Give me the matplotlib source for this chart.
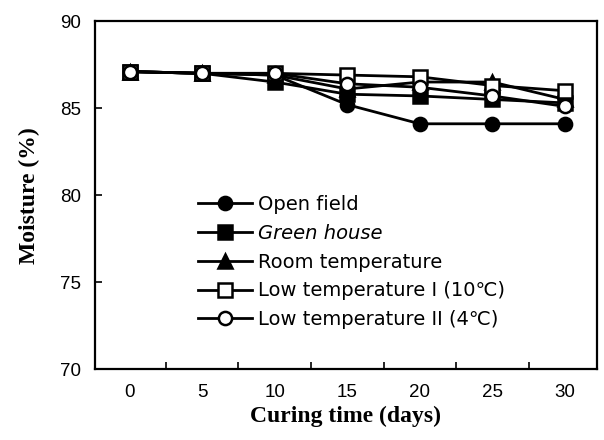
import matplotlib
matplotlib.use("Agg")
import matplotlib.pyplot as plt
import numpy as np

days = ["0", "5", "10", "15", "20", "25", "30"]
open_field = [87.1, 87.0, 86.9, 85.2, 84.1, 84.1, 84.1]
green_house = [87.1, 87.0, 86.5, 85.8, 85.7, 85.5, 85.3]
room_temp = [87.1, 87.0, 86.9, 86.1, 86.5, 86.5, 85.5]
low_temp_1 = [87.1, 87.0, 87.0, 86.9, 86.8, 86.3, 86.0]
low_temp_2 = [87.1, 87.0, 87.0, 86.4, 86.2, 85.7, 85.1]
y_ticks = [70, 75, 80, 85, 90]

fig = plt.figure(figsize=(6.04, 4.40), dpi=100)
ax = fig.add_axes([0.157, 0.161, 0.831, 0.791])

x = np.arange(len(days))
lw = 2.0
ms = 9.5
series = [
    (open_field, "o", "black", "Open field", "normal"),
    (green_house, "s", "black", "Green house", "italic"),
    (room_temp, "^", "black", "Room temperature", "normal"),
    (low_temp_1, "s", "white", "Low temperature I (10\u2103)", "normal"),
    (low_temp_2, "o", "white", "Low temperature II (4\u2103)", "normal"),
]
for vals, m, fc, lab, st in series:
    ax.plot(x, vals, color="black", lw=lw, marker=m, markersize=ms,
            markerfacecolor=fc, markeredgecolor="black", markeredgewidth=1.8,
            label=lab)

tick_font = ["Liberation Sans", "DejaVu Sans"]
ax.set_xlim(-0.48, 6.44)
ax.set_ylim(70, 90)
ax.set_xticks(x)
ax.set_xticklabels(days, fontsize=13.5, family=tick_font)
ax.set_xticks(x[:-1] + 0.5, minor=True)
ax.tick_params(axis="x", which="major", length=0, pad=11)
ax.tick_params(axis="x", which="minor", length=5, direction="in", width=1.2)
ax.set_yticks(y_ticks)
ax.set_yticklabels([str(v) for v in y_ticks], fontsize=13.5, family=tick_font)
ax.tick_params(axis="y", which="major", length=5, direction="in", width=1.2, pad=10)
for s in ax.spines.values():
    s.set_linewidth(1.6)

ax.set_xlabel("Curing time (days)", fontsize=17, family="Liberation Serif",
              fontweight="bold", labelpad=3)
ax.set_ylabel("Moisture (%)", fontsize=17, family="Liberation Serif",
              fontweight="bold", labelpad=14)

leg = ax.legend(loc="lower left", bbox_to_anchor=(0.205, 0.115), frameon=False,
                handlelength=2.8, handletextpad=0.3, labelspacing=0.5,
                prop={"family": ["DejaVu Sans"], "size": 14},
                borderaxespad=0, borderpad=0)
for t, (_, _, _, _, st) in zip(leg.get_texts(), series):
    t.set_fontstyle(st)

fig.savefig("out.png", dpi=100)
